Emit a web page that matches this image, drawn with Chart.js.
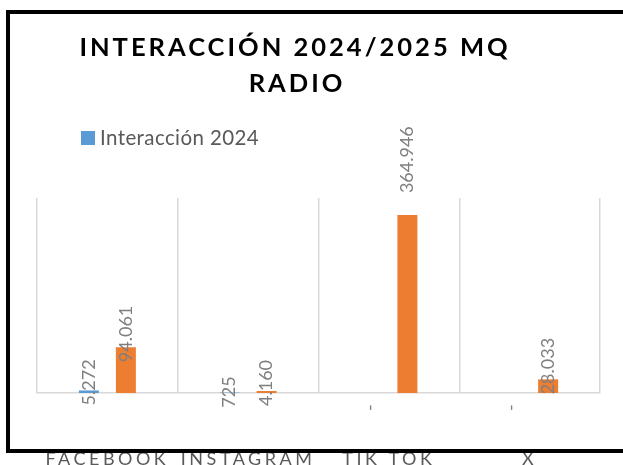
<!DOCTYPE html>
<html><head><meta charset="utf-8">
<script src="https://cdn.jsdelivr.net/npm/chart.js@4.4.1/dist/chart.umd.min.js"></script>
<style>html,body{margin:0;padding:0;background:#fff;overflow:hidden}#wrap{position:relative;width:623px;height:465px}</style>
</head><body><div id="wrap"><canvas id="c" width="623" height="465"></canvas></div>
<script>
const categories = ['FACEBOOK', 'INSTAGRAM', 'TIK TOK', 'X'];
const seriesNames = ['Interacción 2024', 'Interacción 2025'];
const values2024 = [5272, 725, 0, 0];
const values2025 = [94061, 4160, 364946, 28033];
const titleLines = ['INTERACCIÓN 2024/2025 MQ', 'RADIO'];
const yMax = 400000;
const colors = ['#5B9BD5', '#ED7D31'];

function fmt(v) {
  if (v === 0) return '-';
  return String(v).replace(/\B(?=(\d{3})+(?!\d))/g, '.');
}

const overlay = {
  id: 'overlay',
  afterDraw(chart) {
    const ctx = chart.ctx;
    const xs = chart.scales.x;
    ctx.save();
    // title
    ctx.fillStyle = '#000';
    ctx.font = 'bold 25.5px Lato';
    ctx.letterSpacing = '3px';
    ctx.textAlign = 'center';
    ctx.textBaseline = 'alphabetic';
    ctx.fillText(titleLines[0], 295, 56);
    ctx.fillText(titleLines[1], 297, 92);
    // legend (2024 only)
    ctx.letterSpacing = '0.4px';
    ctx.fillStyle = colors[0];
    ctx.fillRect(81, 131, 14, 14);
    ctx.fillStyle = '#595959';
    ctx.font = '20.5px Lato';
    ctx.textAlign = 'left';
    ctx.fillText(seriesNames[0], 100, 145);
    // data labels
    ctx.letterSpacing = '0px';
    ctx.font = '18px Lato';
    ctx.fillStyle = '#7f7f7f';
    chart.data.datasets.forEach((ds, i) => {
      chart.getDatasetMeta(i).data.forEach((bar, j) => {
        const txt = fmt(ds.data[j]);
        const w = ctx.measureText(txt).width;
        const h = bar.base - bar.y;
        const start = h > w ? bar.y - 22 : bar.y + (ds.data[j] === 0 ? 18 : 15);
        ctx.save();
        ctx.translate(bar.x, start);
        ctx.rotate(-Math.PI / 2);
        ctx.textAlign = 'left';
        ctx.textBaseline = 'middle';
        ctx.fillText(txt, 0, 0);
        ctx.restore();
      });
    });
    // category labels
    ctx.font = '18px Lato';
    ctx.fillStyle = '#595959';
    ctx.letterSpacing = '3.5px';
    ctx.textAlign = 'center';
    ctx.textBaseline = 'alphabetic';
    categories.forEach((c, i) => ctx.fillText(c, xs.getPixelForValue(i), 465));
    // outer border
    ctx.letterSpacing = '0px';
    ctx.strokeStyle = '#000';
    ctx.lineWidth = 4;
    ctx.strokeRect(8, 12, 700, 439);
    ctx.restore();
  }
};

new Chart(document.getElementById('c'), {
  type: 'bar',
  data: {
    labels: categories,
    datasets: [
      { label: seriesNames[0], data: values2024, backgroundColor: colors[0], barPercentage: 0.54, categoryPercentage: 0.526 },
      { label: seriesNames[1], data: values2025, backgroundColor: colors[1], barPercentage: 0.54, categoryPercentage: 0.526 }
    ]
  },
  options: {
    responsive: false,
    animation: false,
    devicePixelRatio: 1,
    layout: { padding: { left: 37, right: 23, top: 198, bottom: 72 } },
    plugins: { legend: { display: false }, title: { display: false }, tooltip: { enabled: false } },
    scales: {
      x: {
        grid: { offset: true, color: '#d9d9d9', lineWidth: 1.5, drawTicks: false },
        border: { color: '#d9d9d9', width: 1.5 },
        ticks: { display: false }
      },
      y: { display: false, min: 0, max: yMax }
    }
  },
  plugins: [overlay]
});
</script>
</body></html>
